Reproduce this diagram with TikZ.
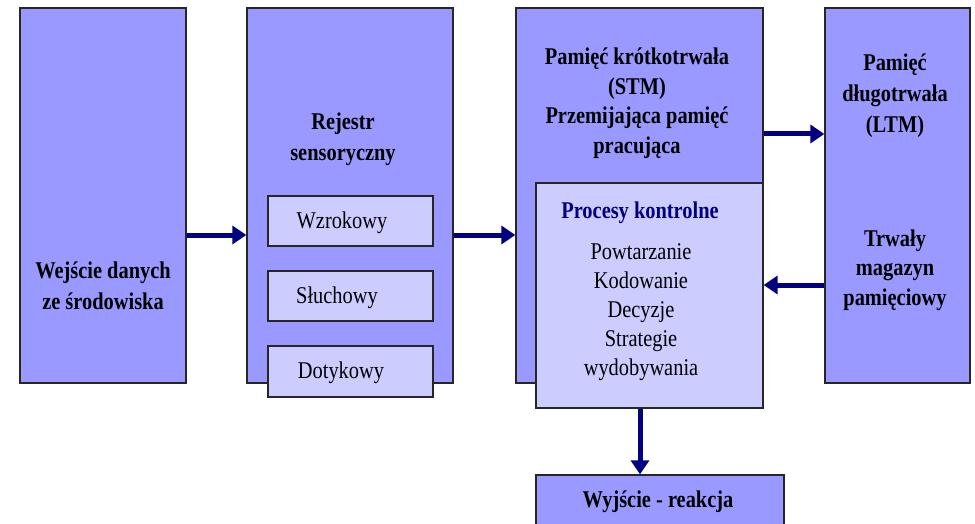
\documentclass[tikz,border=0pt]{standalone}
\usepackage{fontspec}
\setmainfont{Liberation Serif}[FakeStretch=0.85]
\usetikzlibrary{arrows.meta}
\definecolor{boxblue}{HTML}{9999FF}
\definecolor{paleblue}{HTML}{CCCCFF}
\definecolor{arrownavy}{HTML}{000080}

\begin{document}
\begin{tikzpicture}[x=1pt,y=-1pt,
  box/.style={draw=black!85, line width=1.3pt, fill=boxblue, inner sep=0pt},
  subbox/.style={box, fill=paleblue},
  head/.style={font=\fontsize{24}{30}\selectfont\bfseries, align=center, inner sep=0pt},
  plain/.style={font=\fontsize{24}{29}\selectfont, align=center, inner sep=0pt},
  flow/.style={draw=arrownavy, line width=5pt, -{Triangle[length=14pt,width=18pt]}}]
\useasboundingbox (0,0) rectangle (975,524);

% main boxes
\node[box, minimum width=166, minimum height=375] (in)  at (103,195.5) {};
\node[box, minimum width=206, minimum height=375] (reg) at (350,195.5) {};
\node[box, minimum width=247, minimum height=375] (stm) at (639.5,195.5) {};
\node[box, minimum width=145, minimum height=375] (ltm) at (897.5,195.5) {};

% sensory register channels
\node[subbox, minimum width=165, minimum height=50] (wz) at (350.5,221) {};
\node[subbox, minimum width=165, minimum height=50] (sl) at (350.5,296) {};
\node[subbox, minimum width=165, minimum height=51] (do) at (350.5,371.5) {};

% control processes and output
\node[subbox, minimum width=227, minimum height=225] (ctrl) at (649.5,295.5) {};
\node[box, minimum width=248, minimum height=60] (out) at (660,505) {};

% labels
\node[head, font=\fontsize{24}{31}\selectfont\bfseries] (tin) at (103,286) {Wejście danych\\ze środowiska};
\node[head, font=\fontsize{24}{31}\selectfont\bfseries] (treg) at (343,139) {Rejestr\\sensoryczny};
\node[plain] (twz) at (342,223) {Wzrokowy};
\node[plain] (tsl) at (337,298) {Słuchowy};
\node[plain] (tdo) at (341,373) {Dotykowy};
\node[head, font=\fontsize{24}{29.5}\selectfont\bfseries] (tstm) at (637,103) {Pamięć krótkotrwała\\(STM)\\Przemijająca pamięć\\pracująca};
\node[head, text=arrownavy] (tctrl) at (640,213) {Procesy kontrolne};
\node[plain] (titems) at (641,312) {Powtarzanie\\Kodowanie\\Decyzje\\Strategie\\wydobywania};
\node[head, font=\fontsize{24}{31}\selectfont\bfseries] (tltm) at (895,96) {Pamięć\\długotrwała\\(LTM)};
\node[head, font=\fontsize{24}{29.5}\selectfont\bfseries] (tstore) at (895,270) {Trwały\\magazyn\\pamięciowy};
\node[head] (tout) at (658,502) {Wyjście - reakcja};

% connectors
\coordinate (r1) at (0,235);
\coordinate (r2) at (0,134);
\coordinate (r3) at (0,285);
\coordinate (c5) at (640,0);
\draw[flow] (in.east |- r1) -- (reg.west |- r1);
\draw[flow] (reg.east |- r1) -- (stm.west |- r1);
\draw[flow] (stm.east |- r2) -- (ltm.west |- r2);
\draw[flow] (ltm.west |- r3) -- (ctrl.east |- r3);
\draw[flow] (ctrl.south -| c5) -- (out.north -| c5);
\end{tikzpicture}
\end{document}
